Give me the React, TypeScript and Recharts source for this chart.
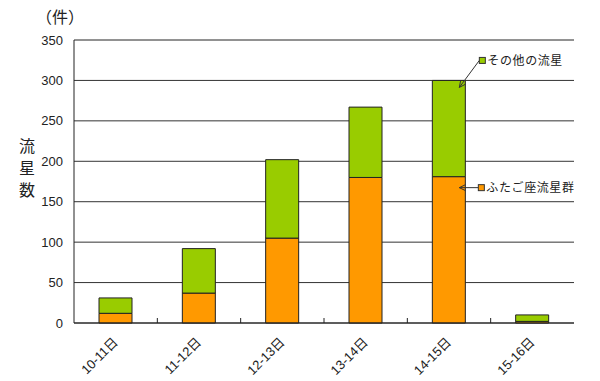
import React from "react"
import { BarChart, Bar, XAxis, YAxis, CartesianGrid, ReferenceLine } from "recharts"

const dates = ["10-11日", "11-12日", "12-13日", "13-14日", "14-15日", "15-16日"]
const geminids = [12, 37, 105, 180, 181, 2]
const others = [19, 55, 97, 87, 119, 8]
const yTicks = [0, 50, 100, 150, 200, 250, 300, 350]

const seriesNames = { geminids: "ふたご座流星群", others: "その他の流星" }
const annotIndex = dates.indexOf("14-15日")

const data = dates.map((d, i) => ({ date: d, geminids: geminids[i], others: others[i] }))

const jpFont = "'Liberation Sans', 'Noto Sans CJK JP', sans-serif"

// category label plus the small inward tick on the boundary to its right
function DateTick(props: any) {
  const { x, y, payload, width } = props
  const i = dates.indexOf(payload.value)
  const half = payload.offset ? payload.offset : width ? width / dates.length / 2 : 0
  const showBoundary = half > 0 && i < dates.length - 1
  return (
    <g>
      {showBoundary && (
        <line x1={x + half} x2={x + half} y1={y} y2={y - 5} stroke="#222" strokeWidth={1} />
      )}
      <text
        transform={`translate(${x + 3},${y + 20}) rotate(-45)`}
        textAnchor="end"
        fontSize={13}
        fontFamily={jpFont}
        fill="#222"
      >
        {payload.value}
      </text>
    </g>
  )
}

function arrowHead(tx: number, ty: number, fx: number, fy: number) {
  const a = Math.atan2(ty - fy, tx - fx)
  const l = 7
  const s = 0.45
  const p1 = [tx - l * Math.cos(a - s), ty - l * Math.sin(a - s)]
  const p2 = [tx - l * Math.cos(a + s), ty - l * Math.sin(a + s)]
  return `${p1[0]},${p1[1]} ${tx},${ty} ${p2[0]},${p2[1]}`
}

function makeCallout(text: string, color: string, kind: "top" | "side") {
  return (props: any) => {
    const { x, y, width, index } = props
    if (index !== annotIndex) return <g />
    const tx = x + width - 6
    const ty = kind === "top" ? y + 7 : y + 11
    const bx = kind === "top" ? x + width + 14 : x + width + 13
    const by = kind === "top" ? y - 20 : ty
    return (
      <g>
        <line x1={bx} y1={by} x2={tx} y2={ty} stroke="#333" strokeWidth={1} />
        <polyline points={arrowHead(tx, ty, bx, by)} fill="none" stroke="#333" strokeWidth={1} />
        <rect x={bx} y={by - 3} width={6} height={6} fill={color} stroke="#333" strokeWidth={1} />
        <text x={bx + 8} y={by + 4.5} fontSize={12} fontFamily={jpFont} fill="#222" letterSpacing={0.6}>
          {text}
        </text>
      </g>
    )
  }
}

export default function App() {
  return (
    <div style={{ position: "absolute", left: 0, top: 0, width: 600, height: 381, background: "#fff" }}>
      <div style={{ position: "absolute", left: 36, top: 4, fontSize: 16, fontFamily: jpFont, color: "#222" }}>
        （件）
      </div>
      <div
        style={{
          position: "absolute",
          left: 13,
          top: 138,
          fontSize: 16,
          fontFamily: jpFont,
          color: "#222",
          writingMode: "vertical-rl",
          letterSpacing: 6,
        }}
      >
        流星数
      </div>
      <BarChart
        width={600}
        height={381}
        data={data}
        margin={{ top: 40, right: 26, bottom: 0, left: 0 }}
        barCategoryGap="30%"
      >
        <CartesianGrid vertical={false} stroke="#333" yAxisId="l" xAxisId="cat" />
        <XAxis
          xAxisId="cat"
          dataKey="date"
          height={58}
          tickLine={false}
          tickSize={0}
          tickMargin={0}
          axisLine={{ stroke: "#222" }}
          tick={<DateTick />}
          interval={0}
        />
        <YAxis
          yAxisId="l"
          width={74}
          domain={[0, 350]}
          ticks={yTicks}
          tickLine={false}
          tickMargin={5}
          axisLine={{ stroke: "#222" }}
          tick={{ fontSize: 13, fill: "#222", fontFamily: "'Liberation Sans', Arial, sans-serif" }}
        />
        <YAxis
          yAxisId="r"
          orientation="right"
          width={0}
          domain={[0, 350]}
          tick={false}
          tickLine={false}
          axisLine={{ stroke: "#8a8a8a" }}
        />
        <ReferenceLine yAxisId="l" xAxisId="cat" y={350} stroke="#8a8a8a" />
        <Bar
          dataKey="geminids"
          name={seriesNames.geminids}
          stackId="s"
          yAxisId="l"
          xAxisId="cat"
          fill="#FF9900"
          stroke="#222"
          strokeWidth={1}
          isAnimationActive={false}
          label={makeCallout(seriesNames.geminids, "#FF9900", "side")}
        />
        <Bar
          dataKey="others"
          name={seriesNames.others}
          stackId="s"
          yAxisId="l"
          xAxisId="cat"
          fill="#99CC00"
          stroke="#222"
          strokeWidth={1}
          isAnimationActive={false}
          label={makeCallout(seriesNames.others, "#99CC00", "top")}
        />
      </BarChart>
    </div>
  )
}
